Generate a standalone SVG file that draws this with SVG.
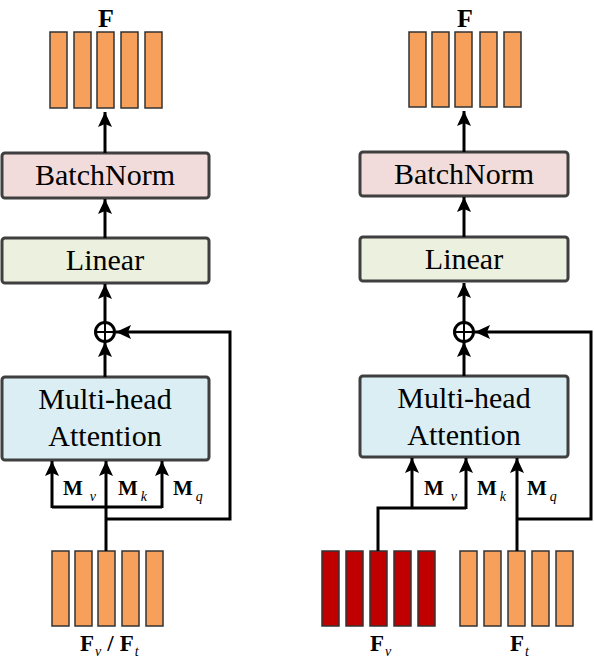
<svg xmlns="http://www.w3.org/2000/svg" width="594" height="662" viewBox="0 0 594 662">
<style>
.box{stroke:#3f3f3f;stroke-width:3}
.bn{fill:#f2dcdb}
.lin{fill:#ebf1de}
.mha{fill:#dbeef4}
.bar{fill:#f6a05c;stroke:#333;stroke-width:1.5}
.red{fill:#c00000;stroke:#333;stroke-width:1.5}
.lbl{font-family:"Liberation Serif","Times New Roman",serif;font-size:30px;fill:#000;text-anchor:middle}
.b{font-family:"Liberation Serif","Times New Roman",serif;font-weight:bold;fill:#000}
.sub{font-family:"Liberation Serif","Times New Roman",serif;font-style:italic;font-weight:normal;font-size:14px}
.ln{stroke:#000;stroke-width:3;fill:none}
.arr{stroke:#000;stroke-width:3;fill:none;marker-end:url(#ah)}
</style>
<defs>
<marker id="ah" markerUnits="userSpaceOnUse" markerWidth="16" markerHeight="14" refX="15" refY="7" orient="auto">
<path d="M0,0 L15,7 L0,14 L3,7 z" fill="#000"/>
</marker>
</defs>
<rect width="594" height="662" fill="#fff"/>

<!-- LEFT PANEL -->
<g id="left-out">
<text class="b" x="106" y="27" font-size="26" text-anchor="middle">F</text>
<rect class="bar" x="50" y="32" width="17" height="76"/>
<rect class="bar" x="74" y="32" width="17" height="76"/>
<rect class="bar" x="97" y="32" width="17" height="76"/>
<rect class="bar" x="121" y="32" width="17" height="76"/>
<rect class="bar" x="145" y="32" width="17" height="76"/>
</g>
<g id="left-bn">
<rect class="box bn" x="2" y="153" width="207" height="45" rx="3"/>
<text class="lbl" x="105" y="185">BatchNorm</text>
</g>
<g id="left-lin">
<rect class="box lin" x="2" y="238" width="207" height="45" rx="3"/>
<text class="lbl" x="105" y="270">Linear</text>
</g>
<g id="left-add">
<circle cx="105" cy="332" r="9.5" fill="#fff" stroke="#000" stroke-width="3"/>
<path d="M95.5,332 H114.5 M105,322.5 V341.5" stroke="#000" stroke-width="2"/>
</g>
<g id="left-mha">
<rect class="box mha" x="2" y="377" width="207" height="83" rx="3"/>
<text class="lbl" x="105" y="409">Multi-head</text>
<text class="lbl" x="105" y="446">Attention</text>
</g>
<g id="left-in">
<rect class="bar" x="52" y="551" width="17" height="75"/>
<rect class="bar" x="75" y="551" width="17" height="75"/>
<rect class="bar" x="98" y="551" width="17" height="75"/>
<rect class="bar" x="122" y="551" width="17" height="75"/>
<rect class="bar" x="146" y="551" width="17" height="75"/>
<text class="b" font-size="23" x="80" y="651">F<tspan class="sub" dx="1" dy="5">v</tspan><tspan dx="6" dy="-5">/</tspan><tspan dx="6">F</tspan><tspan class="sub" dx="1" dy="5">t</tspan></text>
</g>
<g id="left-labels">
<text class="b" font-size="21" x="63" y="495">M<tspan class="sub" dx="7" dy="6">v</tspan></text>
<text class="b" font-size="21" x="118" y="495">M<tspan class="sub" dx="3" dy="6">k</tspan></text>
<text class="b" font-size="21" x="173" y="495">M<tspan class="sub" dx="3" dy="6">q</tspan></text>
</g>

<!-- RIGHT PANEL -->
<g id="right-out">
<text class="b" x="465" y="27" font-size="26" text-anchor="middle">F</text>
<rect class="bar" x="409" y="32" width="17" height="75"/>
<rect class="bar" x="432" y="32" width="17" height="75"/>
<rect class="bar" x="455" y="32" width="17" height="75"/>
<rect class="bar" x="480" y="32" width="17" height="75"/>
<rect class="bar" x="504" y="32" width="17" height="75"/>
</g>
<g id="right-bn">
<rect class="box bn" x="360" y="152" width="208" height="44" rx="3"/>
<text class="lbl" x="464" y="184">BatchNorm</text>
</g>
<g id="right-lin">
<rect class="box lin" x="360" y="237" width="208" height="44" rx="3"/>
<text class="lbl" x="464" y="269">Linear</text>
</g>
<g id="right-add">
<circle cx="464" cy="332" r="9.5" fill="#fff" stroke="#000" stroke-width="3"/>
<path d="M454.5,332 H473.5 M464,322.5 V341.5" stroke="#000" stroke-width="2"/>
</g>
<g id="right-mha">
<rect class="box mha" x="360" y="376" width="208" height="81" rx="3"/>
<text class="lbl" x="464" y="408">Multi-head</text>
<text class="lbl" x="464" y="445">Attention</text>
</g>
<g id="right-in-v">
<rect class="red" x="322" y="551" width="17" height="75"/>
<rect class="red" x="346" y="551" width="17" height="75"/>
<rect class="red" x="370" y="551" width="17" height="75"/>
<rect class="red" x="394" y="551" width="17" height="75"/>
<rect class="red" x="418" y="551" width="17" height="75"/>
<text class="b" font-size="23" x="370" y="651">F<tspan class="sub" dx="1" dy="5">v</tspan></text>
</g>
<g id="right-in-t">
<rect class="bar" x="460" y="551" width="17" height="75"/>
<rect class="bar" x="484" y="551" width="17" height="75"/>
<rect class="bar" x="508" y="551" width="17" height="75"/>
<rect class="bar" x="532" y="551" width="17" height="75"/>
<rect class="bar" x="556" y="551" width="17" height="75"/>
<text class="b" font-size="23" x="510" y="651">F<tspan class="sub" dx="1" dy="5">t</tspan></text>
</g>
<g id="right-labels">
<text class="b" font-size="21" x="424" y="495">M<tspan class="sub" dx="7" dy="6">v</tspan></text>
<text class="b" font-size="21" x="477" y="495">M<tspan class="sub" dx="3" dy="6">k</tspan></text>
<text class="b" font-size="21" x="527" y="495">M<tspan class="sub" dx="3" dy="6">q</tspan></text>
</g>

<g id="connectors">
<!-- left -->
<line class="arr" x1="105" y1="153" x2="105" y2="112"/>
<line class="arr" x1="105" y1="238" x2="105" y2="199"/>
<line class="arr" x1="105" y1="322" x2="105" y2="284"/>
<line class="arr" x1="105" y1="377" x2="105" y2="342"/>
<path class="arr" d="M106,519 H230 V332 H116"/>
<path class="ln" d="M52,507 H162"/>
<line class="arr" x1="52" y1="508" x2="52" y2="461"/>
<line class="arr" x1="106" y1="551" x2="106" y2="461"/>
<line class="arr" x1="162" y1="508" x2="162" y2="461"/>
<!-- right -->
<line class="arr" x1="464" y1="152" x2="464" y2="111"/>
<line class="arr" x1="464" y1="237" x2="464" y2="197"/>
<line class="arr" x1="464" y1="322" x2="464" y2="283"/>
<line class="arr" x1="464" y1="376" x2="464" y2="342"/>
<path class="arr" d="M517,519 H591 V332 H475"/>
<path class="ln" d="M378,551 V508 H466"/>
<line class="arr" x1="412" y1="509" x2="412" y2="458"/>
<line class="arr" x1="466" y1="509" x2="466" y2="458"/>
<line class="arr" x1="517" y1="551" x2="517" y2="458"/>
</g>
</svg>
